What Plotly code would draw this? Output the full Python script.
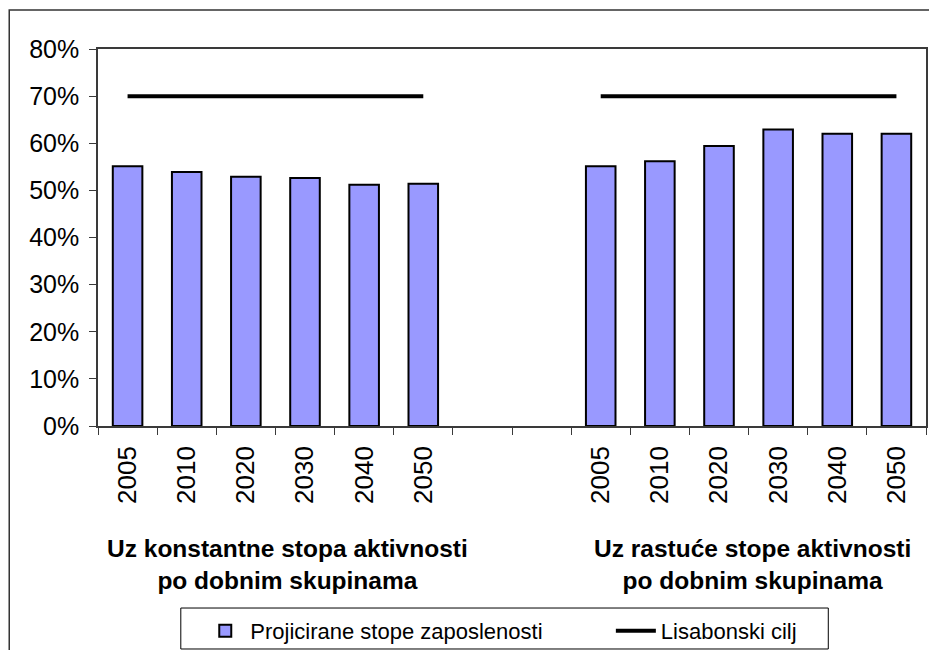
import plotly.graph_objects as go

# ---- data ----
tick_labels = ["2005", "2010", "2020", "2030", "2040", "2050", "", "",
               "2005", "2010", "2020", "2030", "2040", "2050"]
employment = [55.1, 53.9, 52.9, 52.6, 51.2, 51.4, None, None,
              55.1, 56.2, 59.4, 62.9, 62.0, 62.0]
lisbon_target = [70, 70, 70, 70, 70, 70, None, None,
                 70, 70, 70, 70, 70, 70]
group_labels = ["Uz konstantne stopa aktivnosti<br>po dobnim skupinama",
                "Uz rastuće stope aktivnosti<br>po dobnim skupinama"]
y_ticks = [0, 10, 20, 30, 40, 50, 60, 70, 80]

positions = list(range(len(tick_labels)))

FONT = "Liberation Sans, Arial, sans-serif"
AXIS_COLOR = "#3a3a3a"

fig = go.Figure()
fig.add_trace(go.Bar(
    x=positions, y=employment, name="Projicirane stope zaposlenosti",
    marker=dict(color="#9999FF", line=dict(color="#000000", width=2)),
    legend="legend",
))
fig.add_trace(go.Scatter(
    x=positions, y=lisbon_target, name="Lisabonski cilj", mode="lines",
    line=dict(color="#000000", width=4), connectgaps=False,
    legend="legend2",
))

# group labels under the axis
n_left = 6
centers = [(n_left - 1) / 2 + 0.2, len(tick_labels) - n_left + (n_left - 1) / 2 + 0.06]
for c, txt in zip(centers, group_labels):
    fig.add_annotation(x=c, xref="x", y=-0.367, yref="paper", text="<b>" + txt + "</b>",
                       showarrow=False, yanchor="middle", align="center",
                       font=dict(family=FONT, size=24.5, color="#000"))

# outer chart border (left/top visible)
fig.add_shape(type="rect", xref="paper", yref="paper",
              x0=-0.1072, x1=1.03, y0=-0.7, y1=1.1034,
              line=dict(color="#333", width=1.5), fillcolor="rgba(0,0,0,0)", layer="below")
# legend box
fig.add_shape(type="rect", xref="paper", yref="paper",
              x0=0.1, x1=0.882, y0=-0.5915, y1=-0.4828,
              line=dict(color="#000", width=1), fillcolor="white", layer="below")

legend_common = dict(orientation="h", xref="paper", xanchor="left",
                     yref="container", y=0.0296, yanchor="middle",
                     bgcolor="rgba(0,0,0,0)", borderwidth=0,
                     font=dict(family=FONT, size=22, color="#000"), itemwidth=40)

fig.update_layout(
    width=921, height=642,
    margin=dict(l=90, r=1, t=41, b=224),
    paper_bgcolor="white", plot_bgcolor="white",
    bargap=0.5,
    showlegend=True,
    legend=dict(x=0.1235, **legend_common),
    legend2=dict(x=0.6194, **legend_common),
    font=dict(family=FONT, color="#000"),
)
fig.update_xaxes(
    range=[-0.5, len(tick_labels) - 0.5],
    tickmode="array", tickvals=positions, ticktext=tick_labels,
    tickangle=-90, ticks="", showgrid=False, zeroline=False,
    showline=True, linecolor=AXIS_COLOR, linewidth=1.5, mirror=True,
    ticklabelstandoff=8,
    tickfont=dict(family=FONT, size=26, color="#000"),
    minor=dict(tickmode="array", tickvals=[p - 0.5 for p in positions] + [len(tick_labels) - 0.5],
               ticks="outside", ticklen=7, tickcolor=AXIS_COLOR, tickwidth=1, showgrid=False),
)
fig.update_yaxes(
    range=[0, 80], tickmode="array", tickvals=y_ticks,
    ticktext=[f"{v}%" for v in y_ticks],
    ticks="outside", ticklen=7, tickcolor=AXIS_COLOR,
    showgrid=False, zeroline=False,
    showline=True, linecolor=AXIS_COLOR, linewidth=1.5, mirror=True,
    ticklabelstandoff=5,
    tickfont=dict(family=FONT, size=25, color="#000"),
)

fig.write_html("out.html")
